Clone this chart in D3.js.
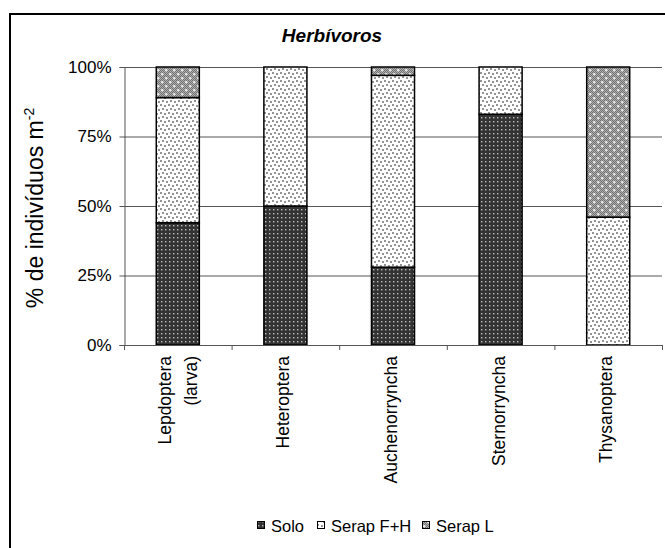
<!DOCTYPE html>
<html>
<head>
<meta charset="utf-8">
<script src="https://cdn.jsdelivr.net/npm/d3@7"></script>
<style>
body { margin: 0; background: #fff; }
text { font-family: "Liberation Sans", Arial, sans-serif; }
</style>
</head>
<body>
<div id="chart"></div>
<script>
// data (% of individuals)
let categories = ['Lepdoptera\n(larva)', 'Heteroptera', 'Auchenorryncha', 'Sternorryncha', 'Thysanoptera'];
let seriesNames = ['Solo', 'Serap F+H', 'Serap L'];
let solo = [44, 50, 28, 83, 0];
let serapFH = [45, 50, 69, 17, 46];
let serapL = [11, 0, 3, 0, 54];
let yTicks = [0, 0.25, 0.5, 0.75, 1];

let width = 665;
let height = 548;
let plot = {left: 124, right: 662, top: 67, bottom: 345};

let svg = d3.select('#chart')
	.append('svg')
	.attr('width', width)
	.attr('height', height);

// fill patterns
let defs = svg.append('defs');

let pSolo = defs.append('pattern').attr('id', 'p0')
	.attr('width', 4).attr('height', 4).attr('patternUnits', 'userSpaceOnUse');
pSolo.append('rect').attr('width', 4).attr('height', 4).attr('fill', '#333');
pSolo.append('rect').attr('x', 1).attr('y', 1).attr('width', 1.4).attr('height', 1.4).attr('fill', '#bdbdbd');

let pFH = defs.append('pattern').attr('id', 'p1')
	.attr('width', 8).attr('height', 8).attr('patternUnits', 'userSpaceOnUse');
pFH.append('rect').attr('width', 8).attr('height', 8).attr('fill', '#fff');
[[1, 1], [5, 2], [3, 5], [7, 6]].forEach(function(p){
	pFH.append('circle').attr('cx', p[0]).attr('cy', p[1]).attr('r', 0.95).attr('fill', '#666');
});

let pL = defs.append('pattern').attr('id', 'p2')
	.attr('width', 8).attr('height', 8).attr('patternUnits', 'userSpaceOnUse');
pL.append('rect').attr('width', 8).attr('height', 8).attr('fill', '#b0b0b0');
for(let i = 0; i < 8; i++){
	for(let j = 0; j < 8; j++){
		if((i + j) % 2 == 0) pL.append('rect').attr('x', i).attr('y', j).attr('width', 1).attr('height', 1).attr('fill', '#707070');
	}
}
[[2, 2], [6, 6]].forEach(function(p){
	pL.append('rect').attr('x', p[0] - 1).attr('y', p[1] - 0.4).attr('width', 2.6).attr('height', 1).attr('fill', '#fff');
	pL.append('rect').attr('x', p[0] - 0.4).attr('y', p[1] - 1).attr('width', 1).attr('height', 2.6).attr('fill', '#fff');
});

// outer frame
svg.append('rect')
	.attr('x', 10).attr('y', 14)
	.attr('width', 700).attr('height', 600)
	.attr('fill', 'none')
	.attr('stroke', '#000')
	.attr('stroke-width', 2);

let x = d3.scaleBand()
	.domain(categories)
	.range([plot.left, plot.right])
	.paddingInner(0.6)
	.paddingOuter(0.3);

let y = d3.scaleLinear()
	.domain([0, 1])
	.range([plot.bottom, plot.top]);

// gridlines
svg.append('g')
	.selectAll('line')
	.data(yTicks.slice(1))
	.enter()
	.append('line')
	.attr('x1', plot.left).attr('x2', plot.right)
	.attr('y1', function(d){ return y(d) + 0.5; })
	.attr('y2', function(d){ return y(d) + 0.5; })
	.attr('stroke', '#555');

// stacked bars
let rows = categories.map(function(c, i){
	return {cat: c, s0: solo[i] / 100, s1: serapFH[i] / 100, s2: serapL[i] / 100};
});
let stack = d3.stack().keys(['s0', 's1', 's2'])(rows);

svg.append('g')
	.selectAll('g')
	.data(stack)
	.enter()
	.append('g')
	.attr('fill', function(d, i){ return 'url(#p' + i + ')'; })
	.selectAll('rect')
	.data(function(d){ return d; })
	.enter()
	.filter(function(d){ return d[1] - d[0] > 0; })
	.append('rect')
	.attr('x', function(d){ return x(d.data.cat); })
	.attr('width', x.bandwidth())
	.attr('y', function(d){ return y(d[1]); })
	.attr('height', function(d){ return y(d[0]) - y(d[1]); })
	.attr('stroke', '#000')
	.attr('stroke-width', 1.5);

// y axis
let yAxis = svg.append('g')
	.attr('transform', 'translate(' + (plot.left + 0.5) + ',0)')
	.call(d3.axisLeft(y).tickValues(yTicks).tickFormat(d3.format('.0%')).tickSize(5).tickPadding(8));
yAxis.select('.domain').attr('stroke', '#555');
yAxis.selectAll('.tick line').attr('stroke', '#555');
yAxis.selectAll('text').attr('font-size', 17).attr('fill', '#000').style('font-family', '"Liberation Sans", Arial, sans-serif');

// x axis line + ticks at band boundaries
svg.append('line')
	.attr('x1', plot.left).attr('x2', plot.right)
	.attr('y1', plot.bottom + 0.5).attr('y2', plot.bottom + 0.5)
	.attr('stroke', '#555');

let starts = d3.range(categories.length + 1).map(function(i){ return plot.left + i * x.step(); });
svg.append('g')
	.selectAll('line')
	.data(starts)
	.enter()
	.append('line')
	.attr('x1', function(d){ return d + 0.5; })
	.attr('x2', function(d){ return d + 0.5; })
	.attr('y1', plot.bottom).attr('y2', plot.bottom + 5)
	.attr('stroke', '#555');

// category labels, rotated
let catLabels = svg.append('g')
	.selectAll('text')
	.data(categories)
	.enter()
	.append('text')
	.attr('transform', function(d){
		return 'translate(' + (x(d) + x.bandwidth() / 2) + ',' + (plot.bottom + 11) + ') rotate(-90)';
	})
	.attr('text-anchor', 'end')
	.attr('font-size', 17.5);

catLabels.each(function(d){
	let lines = d.split('\n');
	let t = d3.select(this);
	lines.forEach(function(l, i){
		t.append('tspan')
			.attr('x', 0)
			.attr('dy', i == 0 ? (lines.length == 1 ? 4 : -7) : 26)
			.text(l);
	});
});

// title
svg.append('text')
	.attr('x', 332)
	.attr('y', 42)
	.attr('text-anchor', 'middle')
	.attr('font-size', 19)
	.attr('font-weight', 'bold')
	.attr('font-style', 'italic')
	.text('Herbívoros');

// y label
let yl = svg.append('text')
	.attr('transform', 'translate(43,' + 208 + ') rotate(-90)')
	.attr('text-anchor', 'middle')
	.attr('font-size', 23);
yl.append('tspan').text('% de indivíduos m');
yl.append('tspan').attr('dy', -9).attr('font-size', 14).text('-2');

// legend
let legendX = [257, 317, 422];
let legend = svg.append('g')
	.selectAll('g')
	.data(seriesNames)
	.enter()
	.append('g')
	.attr('transform', function(d, i){ return 'translate(' + legendX[i] + ',532)'; });
legend.append('rect')
	.attr('x', 0.5).attr('y', -10.5)
	.attr('width', 7).attr('height', 7)
	.attr('fill', function(d, i){ return 'url(#p' + i + ')'; })
	.attr('stroke', '#000');
legend.append('text')
	.attr('x', 14)
	.attr('y', 0)
	.attr('font-size', 16.5)
	.text(function(d){ return d; });
</script>
</body>
</html>
